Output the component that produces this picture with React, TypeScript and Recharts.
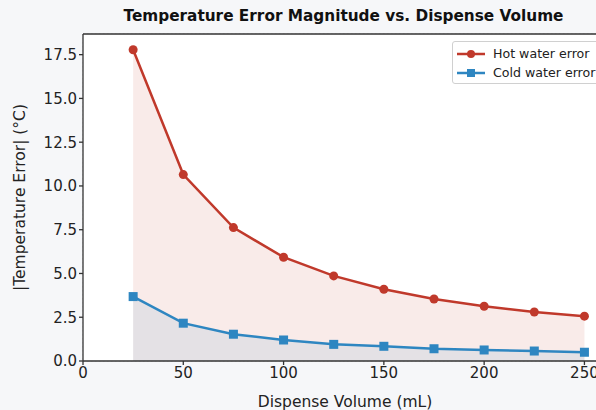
import React from 'react';
import {
  ComposedChart,
  Area,
  XAxis,
  YAxis,
  CartesianGrid,
  ReferenceLine,
} from 'recharts';

const volumes = [25, 50, 75, 100, 125, 150, 175, 200, 225, 250];
const hotError = [17.78, 10.65, 7.62, 5.93, 4.86, 4.1, 3.54, 3.13, 2.8, 2.56];
const coldError = [3.68, 2.16, 1.53, 1.2, 0.95, 0.84, 0.7, 0.63, 0.57, 0.5];
const xTicks = [0, 50, 100, 150, 200, 250];
const yTicks = [0, 2.5, 5, 7.5, 10, 12.5, 15, 17.5];

const HOT = '#c0392b';
const COLD = '#2e86c1';
const FONT = '"DejaVu Sans", Verdana, sans-serif';
const Y_MAX = 18.68;
const X_MAX = 261.25;

const data = volumes.map((v, i) => ({ volume: v, hot: hotError[i], cold: coldError[i] }));

function SquareDot(props: any) {
  const { cx, cy } = props;
  if (cx == null || cy == null) return null;
  return <rect x={cx - 4.5} y={cy - 4.5} width={9} height={9} fill={COLD} />;
}

function CircleDot(props: any) {
  const { cx, cy } = props;
  if (cx == null || cy == null) return null;
  return <circle cx={cx} cy={cy} r={4.5} fill={HOT} />;
}

function LegendBox() {
  const row = (color: string, label: string, square: boolean) => (
    <div style={{ display: 'flex', alignItems: 'center', height: 19 }}>
      <svg width={30} height={12} style={{ marginRight: 7 }}>
        <line x1={1} y1={6} x2={29} y2={6} stroke={color} strokeWidth={2.5} />
        {square ? (
          <rect x={11} y={2} width={8} height={8} fill={color} />
        ) : (
          <circle cx={15} cy={6} r={4} fill={color} />
        )}
      </svg>
      <span>{label}</span>
    </div>
  );
  return (
    <div
      style={{
        position: 'absolute',
        left: 452,
        top: 41,
        boxSizing: 'border-box',
        height: 43,
        background: 'rgba(255,255,255,0.85)',
        border: '1px solid #d0d0d0',
        borderRadius: 3,
        padding: '2px 8px 2px 3px',
        fontFamily: FONT,
        fontSize: 12.6,
        color: '#222',
        width: 170,
        whiteSpace: 'nowrap',
      }}
    >
      {row(HOT, 'Hot water error', false)}
      {row(COLD, 'Cold water error', true)}
    </div>
  );
}

export default function App() {
  return (
    <div
      style={{
        position: 'fixed',
        left: 0,
        top: 0,
        width: 596,
        height: 410,
        overflow: 'hidden',
        background: '#f6f7f9',
        fontFamily: FONT,
      }}
    >
      <div
        style={{
          position: 'absolute',
          left: 0,
          width: 687,
          top: 7,
          textAlign: 'center',
          fontWeight: 'bold',
          fontSize: 15.3,
          color: '#111',
          whiteSpace: 'nowrap',
        }}
      >
        Temperature Error Magnitude vs. Dispense Volume
      </div>
      <ComposedChart
        width={620}
        height={410}
        data={data}
        margin={{ top: 34, right: 13, bottom: 0, left: 0 }}
        style={{ position: 'absolute', left: 0, top: 0 }}
      >
        <rect x={83} y={34} width={524} height={327} fill="#ffffff" />
        <CartesianGrid stroke="#cccccc" strokeDasharray="1.5 2.5" strokeWidth={0.8} />
        <XAxis
          dataKey="volume"
          type="number"
          domain={[0, X_MAX]}
          ticks={xTicks}
          allowDataOverflow
          stroke="#333"
          strokeWidth={1.3}
          tickSize={4}
          tick={{ fill: '#222', fontSize: 15, fontFamily: FONT }}
          height={49}
          label={{
            value: 'Dispense Volume (mL)',
            position: 'insideBottom',
            offset: 3,
            fill: '#222',
            fontSize: 15.5,
            fontFamily: FONT,
          }}
        />
        <YAxis
          type="number"
          domain={[0, Y_MAX]}
          ticks={yTicks}
          allowDataOverflow
          stroke="#333"
          strokeWidth={1.3}
          tickSize={4}
          width={83}
          tickFormatter={(v: number) => v.toFixed(1)}
          tick={{ fill: '#222', fontSize: 15, fontFamily: FONT }}
          label={{
            value: '|Temperature Error| (°C)',
            angle: -90,
            position: 'insideLeft',
            offset: 19,
            style: { textAnchor: 'middle' },
            fill: '#222',
            fontSize: 15.5,
            fontFamily: FONT,
          }}
        />
        <ReferenceLine y={Y_MAX} stroke="#333" strokeWidth={1.3} />
        <Area
          type="linear"
          dataKey="hot"
          name="Hot water error"
          stroke={HOT}
          strokeWidth={2.5}
          fill={HOT}
          fillOpacity={0.1}
          dot={<CircleDot />}
          activeDot={false}
          isAnimationActive={false}
        />
        <Area
          type="linear"
          dataKey="cold"
          name="Cold water error"
          stroke={COLD}
          strokeWidth={2.5}
          fill={COLD}
          fillOpacity={0.1}
          dot={<SquareDot />}
          activeDot={false}
          isAnimationActive={false}
        />
      </ComposedChart>
      <LegendBox />
    </div>
  );
}
